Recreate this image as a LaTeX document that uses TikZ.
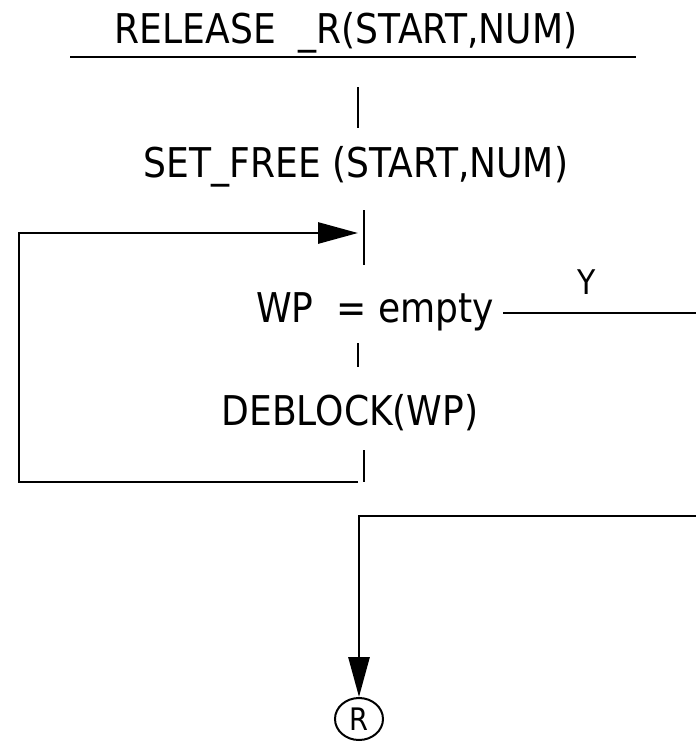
\documentclass[tikz,border=0pt]{standalone}
\usepackage{fontspec}
\setmainfont{DejaVu Sans}[FakeStretch=0.88]
\usetikzlibrary{arrows.meta,shapes.geometric}

\begin{document}
\begin{tikzpicture}[
  x=1pt,y=-1pt,
  txt/.style={font=\fontsize{41}{48}\selectfont,inner sep=0pt,anchor=base},
  ln/.style={line width=2.9pt},
  arr/.style={ln,-{Triangle[length=40pt,width=21pt]}}
]
\useasboundingbox (0,0) rectangle (696,745);
\node[txt] (title) at (346,43) {RELEASE~ \_R(START,NUM)};
\node[txt] (setfree) at (356,177) {SET\_FREE (START,NUM)};
\node[txt,inner xsep=9pt] (wptest) at (375,322) {WP~ = empty};
\node[txt] (deblock) at (350,425) {DEBLOCK(WP)};
\node[txt,font=\fontsize{34}{38}\selectfont] (yes) at (587,294) {Y};
\node[draw,line width=2pt,ellipse,inner sep=0pt,minimum width=48pt,minimum height=42pt,
      font=\fontsize{31}{34}\selectfont] (ret) at (359,719) {R};
% flow lines
\draw[ln] (70,57) -- (636,57);
\coordinate (t1a) at (358,87);  \coordinate (t1b) at (358,128);
\coordinate (t2a) at (364,210); \coordinate (t2b) at (364,265);
\coordinate (t3a) at (358,343); \coordinate (t3b) at (358,367);
\coordinate (t4a) at (364,450); \coordinate (t4b) at (364,482);
\draw[ln] (t1a) -- (t1b);
\draw[ln] (t2a) -- (t2b);
\draw[ln] (t3a) -- (t3b);
\draw[ln] (t4a) -- (t4b);
% loop back
\coordinate (lb) at (358,482);
\coordinate (lt) at (358,233);
\draw[arr] (lb) -- (19,482) |- (lt);
% Y branch
\coordinate (yend) at (696,313);
\draw[ln] (wptest.east |- yend) -- (yend);
\coordinate (rb) at (696,516);
\draw[arr] (rb) -| (ret);
\end{tikzpicture}
\end{document}
